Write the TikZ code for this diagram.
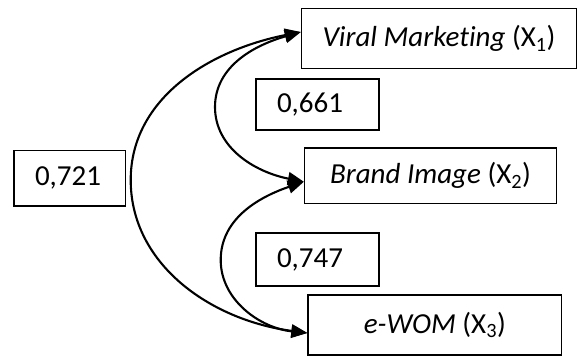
\documentclass[tikz,border=0pt]{standalone}
\usepackage{fontspec}
\setmainfont[Ligatures=NoCommon]{Carlito}
\usetikzlibrary{arrows.meta}
\begin{document}
\begin{tikzpicture}[x=1pt,y=-1pt,
  box/.style={draw, line width=1.3pt, inner sep=0pt},
  varbox/.style={box, font=\fontsize{29}{34}\selectfont},
  numbox/.style={box, inner xsep=21pt, align=left, font=\fontsize{29}{34}\selectfont},
  link/.style={line width=2.1pt, {Triangle[length=16pt,width=13pt]}-{Triangle[length=16pt,width=13pt]}}]
\useasboundingbox (0,0) rectangle (577,356);

% variables
\node[varbox, minimum width=275pt, minimum height=60pt] (vm) at (439,38.5)
  {\textit{Viral Marketing} (X\textsubscript{1})};
\node[varbox, minimum width=252pt, minimum height=55.5pt] (bi) at (430.5,175.75)
  {\textit{Brand Image} (X\textsubscript{2})};
\node[varbox, minimum width=253.7pt, minimum height=60pt] (ew) at (434.85,325)
  {\textit{e-WOM} (X\textsubscript{3})};

% correlation values
\node[numbox, text width=81pt, minimum height=51pt] (c661) at (317.5,104.5) {0,661};
\node[numbox, text width=69.5pt, minimum height=55.3pt] (c721) at (69.75,178.3) {0,721};
\node[numbox, text width=81pt, minimum height=53pt] (c747) at (317.5,259.5) {0,747};

% two-headed correlation arcs
\draw[link] ([yshift=6.5pt]vm.west) .. controls (210,50) and (130.7,98) .. (130.7,180)
  .. controls (130.7,264) and (210,320) .. ([yshift=-8pt]ew.west);
\draw[link] ([yshift=6.5pt]vm.west) .. controls (255,45) and (215,66) .. (215,107)
  .. controls (215,148) and (255,172) .. ([yshift=-6pt]bi.west);
\draw[link] ([yshift=-6pt]bi.west) .. controls (262,196) and (220.7,217) .. (220.7,260)
  .. controls (220.7,300) and (260,328) .. ([yshift=-8pt]ew.west);
\end{tikzpicture}
\end{document}
